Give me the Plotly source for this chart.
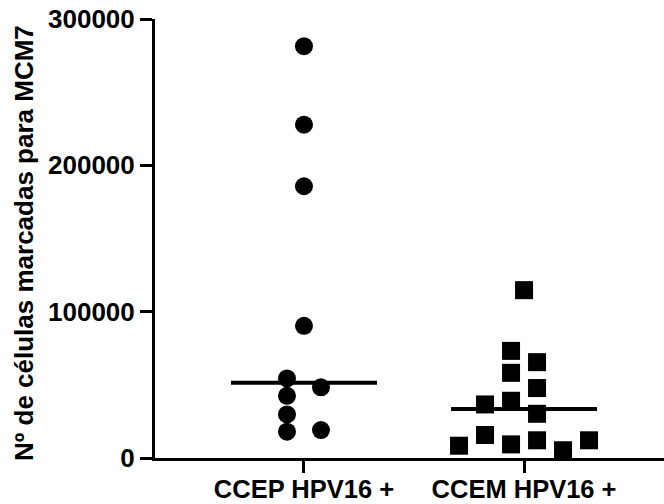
import numpy as np
import plotly.graph_objects as go

# Groups and measured counts of MCM7-labelled cells
groups = ["CCEP HPV16 +", "CCEM HPV16 +"]
ccep_values = [281400, 227800, 185700, 90300, 54400, 42500, 48300, 29800, 18000, 19100]
ccem_values = [114700, 73200, 65500, 58200, 47800, 36600, 39100, 30200,
               8400, 15700, 9300, 12100, 5300, 12100]
y_ticks = [0, 100000, 200000, 300000]
y_title = "Nº de células marcadas para MCM7"

# Figure geometry
W, H = 664, 504
M_L, M_R, M_T, M_B = 155, 0, 19, 46
plot_w = W - M_L - M_R
plot_h = H - M_T - M_B
x_range = [-0.677, 1.636]
y_range = [0, 300000]
px_per_x = plot_w / (x_range[1] - x_range[0])
px_per_y = plot_h / (y_range[1] - y_range[0])

marker_px = 18
font_family = "Liberation Sans, Arial, sans-serif"


def swarm_offsets(values, step_px):
    """Spread overlapping points sideways in centred rows (in pixels)."""
    vals = np.asarray(values, float)
    ypx = vals * px_per_y
    order = np.argsort(vals, kind="stable")
    band_px = 0.92 * marker_px
    bands, cur = [], []
    for i in order:
        if cur and ypx[i] - ypx[cur[0]] > band_px:
            bands.append(cur)
            cur = []
        cur.append(i)
    bands.append(cur)
    offs = np.zeros(len(vals))
    for b, band in enumerate(bands):
        n = len(band)
        shift = 0.0
        if n % 2 == 1:
            for nb in (b - 1, b + 1):
                if 0 <= nb < len(bands) and len(bands[nb]) % 2 == 0:
                    gap = min(abs(ypx[i] - ypx[j]) for i in band for j in bands[nb])
                    if gap < 1.25 * marker_px:
                        shift = -step_px / 2
        for k, i in enumerate(sorted(band)):
            offs[i] = (k - (n - 1) / 2) * step_px + shift
    return offs


fig = go.Figure()

series = [
    (ccep_values, "circle", 34),
    (ccem_values, "square", 26),
]
half_len = 73 / px_per_x

for gi, (vals, symbol, step) in enumerate(series):
    xs = gi + swarm_offsets(vals, step) / px_per_x
    fig.add_trace(go.Scatter(
        x=xs, y=vals, mode="markers",
        marker=dict(symbol=symbol, size=marker_px, color="black", line=dict(width=0)),
        cliponaxis=False, showlegend=False, hoverinfo="y",
    ))
    med = float(np.median(vals))
    fig.add_trace(go.Scatter(
        x=[gi - half_len, gi + half_len], y=[med, med], mode="lines",
        line=dict(color="black", width=4), showlegend=False, hoverinfo="skip",
        cliponaxis=False,
    ))

fig.update_layout(
    width=W, height=H,
    margin=dict(l=M_L, r=M_R, t=M_T, b=M_B, pad=0),
    plot_bgcolor="white", paper_bgcolor="white",
    xaxis=dict(
        range=x_range, tickvals=list(range(len(groups))), ticktext=groups,
        showline=True, linecolor="black", linewidth=3,
        ticks="outside", ticklen=12, tickwidth=3, tickcolor="black",
        showgrid=False, zeroline=False, automargin=False,
        ticklabelstandoff=-6,
        tickfont=dict(family=font_family, size=25.5, color="black", weight="bold"),
    ),
    yaxis=dict(
        range=y_range, tickvals=y_ticks, ticktext=[str(v) for v in y_ticks],
        showline=True, linecolor="black", linewidth=3,
        ticks="outside", ticklen=12, tickwidth=3, tickcolor="black",
        showgrid=False, zeroline=False, automargin=False,
        tickfont=dict(family=font_family, size=26, color="black", weight="bold"),
    ),
    annotations=[dict(
        text=y_title, textangle=-90, showarrow=False,
        xref="paper", yref="paper",
        x=(23.5 - M_L) / plot_w, y=(H - M_B - 243.5) / plot_h,
        xanchor="center", yanchor="middle",
        font=dict(family=font_family, size=26, color="black", weight="bold"),
    )],
)

fig.write_html("out.html")
